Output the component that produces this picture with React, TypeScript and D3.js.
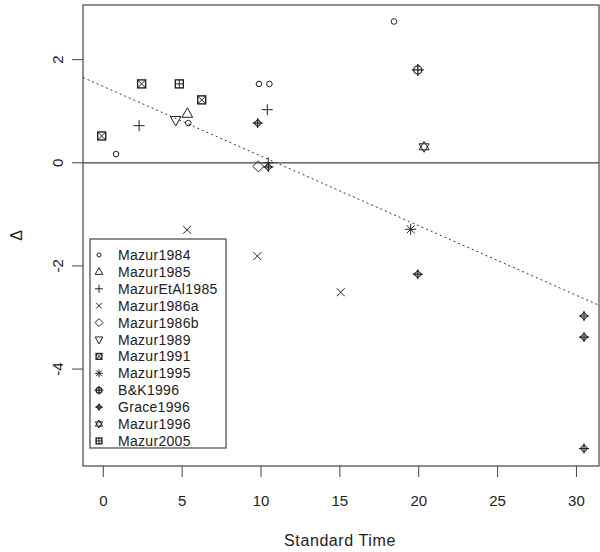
import React from "react";
import * as d3 from "d3";

const seriesNames = [
  "Mazur1984", "Mazur1985", "MazurEtAl1985", "Mazur1986a", "Mazur1986b", "Mazur1989",
  "Mazur1991", "Mazur1995", "B&K1996", "Grace1996", "Mazur1996", "Mazur2005",
];
const seriesSymbols = [
  "smallCircle", "triangle", "plus", "cross", "diamond", "triangleDown",
  "squareTimes", "asterisk", "circlePlus", "diamondPlus", "star", "squarePlus",
];
const seriesX: number[][] = [
  [0.81, 5.39, 9.87, 10.53, 18.43],
  [5.33],
  [2.27, 10.4, 10.46],
  [5.31, 9.77, 15.05],
  [9.83],
  [4.59],
  [-0.1, 2.43, 6.24],
  [19.49],
  [19.94],
  [9.79, 10.46, 19.94, 30.48, 30.48, 30.48],
  [20.34],
  [4.82],
];
const seriesY: number[][] = [
  [0.17, 0.77, 1.53, 1.53, 2.74],
  [0.95],
  [0.72, 1.03, 0.0],
  [-1.3, -1.81, -2.51],
  [-0.07],
  [0.83],
  [0.52, 1.53, 1.22],
  [-1.29],
  [1.8],
  [0.77, -0.08, -2.16, -2.97, -3.38, -5.54],
  [0.31],
  [1.53],
];
const xTicks = [0, 5, 10, 15, 20, 25, 30];
const yTicks = [2, 0, -2, -4];
const fitIntercept = 1.48;
const fitSlope = -0.135;

const W = 600, H = 552;
const L = 83, R = 599, T = 5, B = 466;
const x = d3.scaleLinear().domain([-1.287, 31.43]).range([L, R]);
const y = d3.scaleLinear().domain([-5.88, 3.06]).range([B, T]);
const INK = "#222";

function Sym({ type, cx, cy, k = 1 }: { type: string; cx: number; cy: number; k?: number }) {
  const s = (v: number) => v * k;
  const common = { fill: "none", stroke: INK, strokeWidth: 1 };
  const g = (children: React.ReactNode) => (
    <g transform={`translate(${cx},${cy})`} {...common}>{children}</g>
  );
  switch (type) {
    case "smallCircle":
      return g(<circle r={s(2.8)} />);
    case "triangle":
      return g(<path d={`M0,${s(-6)}L${s(5.3)},${s(3.5)}L${s(-5.3)},${s(3.5)}Z`} />);
    case "triangleDown":
      return g(<path d={`M0,${s(6)}L${s(5.3)},${s(-3.5)}L${s(-5.3)},${s(-3.5)}Z`} />);
    case "plus":
      return g(<path d={`M${s(-5.5)},0H${s(5.5)}M0,${s(-5.5)}V${s(5.5)}`} />);
    case "cross":
      return g(<path d={`M${s(-4)},${s(-4)}L${s(4)},${s(4)}M${s(-4)},${s(4)}L${s(4)},${s(-4)}`} />);
    case "diamond":
      return g(<path d={`M0,${s(-5.5)}L${s(5.5)},0L0,${s(5.5)}L${s(-5.5)},0Z`} />);
    case "squareTimes":
      return g(
        <>
          <rect x={s(-4)} y={s(-4)} width={s(8)} height={s(8)} strokeWidth={1.4} />
          <path d={`M${s(-4)},${s(-4)}L${s(4)},${s(4)}M${s(-4)},${s(4)}L${s(4)},${s(-4)}`} />
        </>
      );
    case "squarePlus":
      return g(
        <>
          <rect x={s(-4)} y={s(-4)} width={s(8)} height={s(8)} strokeWidth={1.4} />
          <path d={`M${s(-4)},0H${s(4)}M0,${s(-4)}V${s(4)}`} />
        </>
      );
    case "asterisk":
      return g(
        <path
          d={`M${s(-5.5)},0H${s(5.5)}M0,${s(-5.5)}V${s(5.5)}M${s(-4)},${s(-4)}L${s(4)},${s(4)}M${s(-4)},${s(4)}L${s(4)},${s(-4)}`}
        />
      );
    case "circlePlus":
      return g(
        <>
          <circle r={s(4)} strokeWidth={1.3} />
          <path d={`M${s(-6)},0H${s(6)}M0,${s(-6)}V${s(6)}`} strokeWidth={1.3} />
        </>
      );
    case "diamondPlus":
      return g(
        <>
          <path d={`M0,${s(-3.6)}L${s(3.6)},0L0,${s(3.6)}L${s(-3.6)},0Z`} strokeWidth={1.1} />
          <path d={`M${s(-5)},0H${s(5)}M0,${s(-5)}V${s(5)}`} strokeWidth={1.1} />
        </>
      );
    case "star":
      return g(
        <>
          <path d={`M0,${s(-5.5)}L${s(5)},${s(3)}L${s(-5)},${s(3)}Z`} />
          <path d={`M0,${s(5.5)}L${s(5)},${s(-3)}L${s(-5)},${s(-3)}Z`} />
        </>
      );
    default:
      return null;
  }
}

export default function App() {
  const fitLine = d3
    .line<number>()
    .x((d) => x(d))
    .y((d) => y(fitIntercept + fitSlope * d))(x.domain());

  const legendX = 90, legendY = 239, legendW = 136, legendH = 209;
  const rowStart = 255, rowStep = 16.9;

  return (
    <svg
      width={W}
      height={H}
      style={{ position: "absolute", left: 0, top: 0, background: "#fff" }}
      fontFamily="Liberation Sans, Arial, sans-serif"
    >
      <defs>
        <clipPath id="plotClip">
          <rect x={L} y={T} width={R - L} height={B - T} />
        </clipPath>
      </defs>
      <rect x={0} y={0} width={W} height={H} fill="#fff" />

      {/* zero line and fit line */}
      <g clipPath="url(#plotClip)">
        <line x1={L} x2={R} y1={y(0)} y2={y(0)} stroke="#444" strokeWidth={1.2} />
        <path d={fitLine ?? ""} fill="none" stroke="#333" strokeWidth={1} strokeDasharray="2,3" />
      </g>

      {/* points */}
      {seriesX.map((xs, si) =>
        xs.map((xv, i) => (
          <Sym key={`${si}-${i}`} type={seriesSymbols[si]} cx={x(xv)} cy={y(seriesY[si][i])} />
        ))
      )}

      {/* box */}
      <rect x={L} y={T} width={R - L} height={B - T} fill="none" stroke="#444" strokeWidth={1.2} />

      {/* x axis */}
      {xTicks.map((t) => (
        <g key={t}>
          <line x1={x(t)} x2={x(t)} y1={B} y2={B + 11} stroke="#444" />
          <text x={x(t)} y={506} textAnchor="middle" fontSize={15} fill={INK}>
            {t}
          </text>
        </g>
      ))}
      <text x={340} y={546} textAnchor="middle" fontSize={16} letterSpacing={0.6} fill={INK}>
        Standard Time
      </text>

      {/* y axis */}
      {yTicks.map((t) => (
        <g key={t}>
          <line x1={L - 11} x2={L} y1={y(t)} y2={y(t)} stroke="#444" />
          <text
            transform={`translate(${63},${y(t)}) rotate(-90)`}
            textAnchor="middle"
            fontSize={15}
            fill={INK}
          >
            {t}
          </text>
        </g>
      ))}
      <text transform={`translate(22,${(T + B) / 2}) rotate(-90)`} textAnchor="middle" fontSize={16} fill={INK}>
        Δ
      </text>

      {/* legend */}
      <rect x={legendX} y={legendY} width={legendW} height={legendH} fill="#fff" stroke="#444" strokeWidth={1.2} />
      {seriesNames.map((name, i) => (
        <g key={name}>
          <Sym type={seriesSymbols[i]} cx={99} cy={rowStart + i * rowStep} k={0.72} />
          <text x={118} y={rowStart + i * rowStep + 5} fontSize={14} letterSpacing={0.3} fill={INK}>
            {name}
          </text>
        </g>
      ))}
    </svg>
  );
}
